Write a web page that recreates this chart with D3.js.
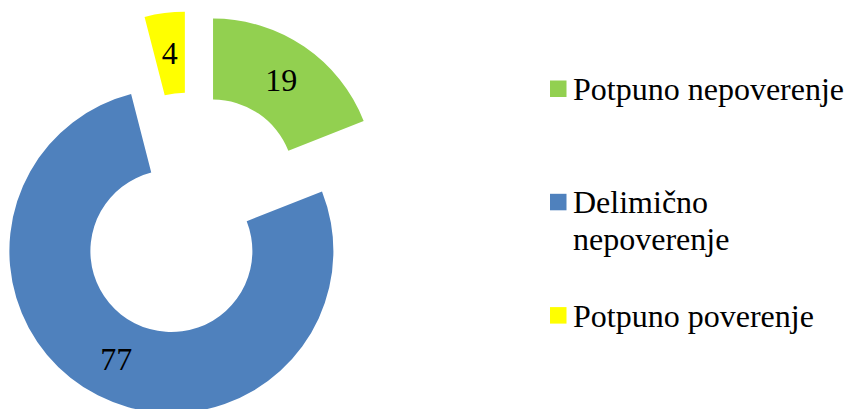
<!DOCTYPE html>
<html>
<head>
<meta charset="utf-8">
<script src="https://cdn.jsdelivr.net/npm/d3@7"></script>
<style>
    body { margin: 0; background: #fff; }
</style>
</head>
<body>
<div id="chart"></div>
<script>
// data
const categories = ["Potpuno nepoverenje", "Delimično nepoverenje", "Potpuno poverenje"];
const values = [19, 77, 4];
const colors = ["#92D050", "#4F81BD", "#FFFF00"];

const FONT = "'Liberation Serif', 'Times New Roman', Times, serif";

class DonutVis {

    constructor(parentElement) {
        this.parentElement = parentElement;
        this.initVis()
    }

    initVis() {
        let vis = this;

        vis.width = 846;
        vis.height = 409;
        vis.cx = 190;
        vis.cy = 214.5;
        vis.outerR = 162;
        vis.innerR = 81;
        vis.explode = 41;

        vis.svg = d3.select("#" + vis.parentElement).append("svg")
            .attr("width", vis.width)
            .attr("height", vis.height);

        vis.pie = d3.pie().sort(null).value(d => d.value);
        vis.arc = d3.arc().innerRadius(vis.innerR).outerRadius(vis.outerR);

        let data = categories.map((c, i) => ({name: c, value: values[i]}));

        vis.color = d3.scaleOrdinal().domain(categories).range(colors);

        // slices, each pushed out from the center
        let slices = vis.svg.append('g')
            .attr('transform', `translate(${vis.cx}, ${vis.cy})`)
            .selectAll('.slice')
            .data(vis.pie(data))
            .enter()
            .append('g')
            .attr('class', 'slice')
            .attr('transform', d => {
                let mid = (d.startAngle + d.endAngle) / 2;
                return `translate(${vis.explode * Math.sin(mid)}, ${-vis.explode * Math.cos(mid)})`
            });

        slices.append('path')
            .attr('d', vis.arc)
            .attr('fill', d => vis.color(d.data.name));

        slices.append('text')
            .attr('x', d => vis.arc.centroid(d)[0])
            .attr('y', d => vis.arc.centroid(d)[1])
            .attr('dy', '0.34em')
            .attr('text-anchor', 'middle')
            .style('font-family', FONT)
            .style('font-size', '32px')
            .text(d => d.data.value);

        // legend
        let legend = vis.svg.append('g')
            .attr('transform', 'translate(550, 0)');

        let items = legend.selectAll('.legend-item')
            .data(categories)
            .enter()
            .append('g')
            .attr('class', 'legend-item')
            .attr('transform', (d, i) => `translate(0, ${100 + i * 113.3})`);

        items.append('rect')
            .attr('x', 0)
            .attr('y', -19.5)
            .attr('width', 16.5)
            .attr('height', 16.5)
            .attr('fill', d => vis.color(d));

        items.append('text')
            .attr('x', 23)
            .attr('y', 0)
            .style('font-family', FONT)
            .style('font-size', '32px')
            .text(d => d)
            .call(vis.wrap, 274);
    }

    wrap(texts, maxWidth) {
        texts.each(function () {
            let text = d3.select(this);
            let words = text.text().split(' ');
            let x = text.attr('x');
            text.text(null);
            let line = [];
            let tspan = text.append('tspan').attr('x', x).attr('dy', 0);
            words.forEach(w => {
                line.push(w);
                tspan.text(line.join(' '));
                if (tspan.node().getComputedTextLength() > maxWidth && line.length > 1) {
                    line.pop();
                    tspan.text(line.join(' '));
                    line = [w];
                    tspan = text.append('tspan').attr('x', x).attr('dy', 36.7).text(w);
                }
            });
        });
    }
}

new DonutVis("chart");
</script>
</body>
</html>
